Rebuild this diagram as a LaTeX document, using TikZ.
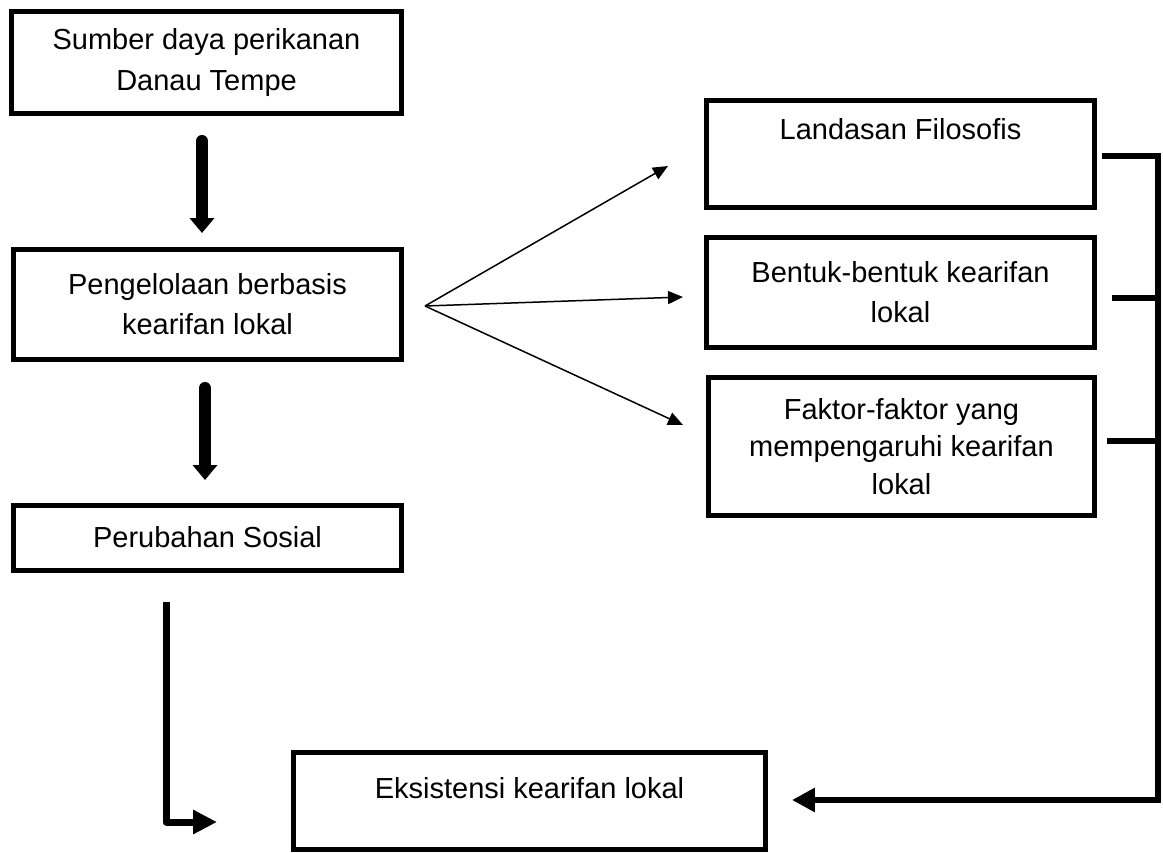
\documentclass[tikz,border=0pt]{standalone}
\usepackage{fontspec}
\setmainfont{Liberation Sans}
\usetikzlibrary{arrows.meta}
\begin{document}
\begin{tikzpicture}[x=0.02cm,y=-0.02cm,
    kotak/.style={draw,line width=0.1cm,align=center,inner sep=0pt,font=\fontsize{16.5}{22.8}\selectfont},
    panahbesar/.style={line width=0.24cm,line cap=round,-{Triangle[width=0.48cm,length=0.3cm]}},
    panahtipis/.style={line width=0.03cm,-{Triangle[width=0.26cm,length=0.3cm]}},
    garis/.style={line width=0.13cm}]
    \useasboundingbox (0,0) rectangle (1163,852);
    % kolom kiri
    \node[kotak,minimum width=7.82cm,minimum height=2.06cm] (sumber) at (206.5,62.5) {Sumber daya perikanan\\Danau Tempe};
    \node[kotak,minimum width=7.78cm,minimum height=2.22cm] (kelola) at (207.5,304.5) {Pengelolaan berbasis\\kearifan lokal};
    \node[kotak,minimum width=7.78cm,minimum height=1.3cm] (perubahan) at (207.5,537.5) {Perubahan Sosial};
    % kolom kanan
    \node[kotak,minimum width=7.78cm,minimum height=2.16cm,text height=0.42cm,text depth=1.02cm] (landasan) at (900.5,154) {Landasan Filosofis};
    \node[kotak,minimum width=7.78cm,minimum height=2.22cm] (bentuk) at (900.5,292.5) {Bentuk-bentuk kearifan\\lokal};
    \node[kotak,minimum width=7.74cm,minimum height=2.78cm,font=\fontsize{16.5}{21.3}\selectfont] (faktor) at (901.5,446.5) {Faktor-faktor yang\\mempengaruhi kearifan\\lokal};
    \node[kotak,minimum width=9.46cm,minimum height=1.94cm,text height=0.42cm,text depth=0.52cm] (eksistensi) at (529.5,800.5) {Eksistensi kearifan lokal};
    % panah
    \draw[panahbesar,shorten <=0.49cm,shorten >=0.27cm] ([xshift=-0.11cm]kelola.north |- sumber.south) -- ([xshift=-0.11cm]kelola.north);
    \draw[panahbesar,shorten <=0.51cm,shorten >=0.45cm] ([xshift=-0.05cm]kelola.south) -- ([xshift=-0.05cm]perubahan.north);
    \coordinate (turun) at (166,602);
    \coordinate (masuk) at (217,822);
    \draw[line width=0.14cm,line join=round,-{Triangle[width=0.46cm,length=0.48cm]}] (turun) |- (masuk);
    \coordinate (cabang) at (425,306);
    \coordinate (keA) at (668,166);
    \coordinate (keB) at (683,297);
    \coordinate (keC) at (683,425);
    \draw[panahtipis] (cabang) -- (keA);
    \draw[panahtipis] (cabang) -- (keB);
    \draw[panahtipis] (cabang) -- (keC);
    % kurung kanan
    \coordinate (sudut) at (1158,800);
    \draw[garis,-{Triangle[width=0.46cm,length=0.46cm]},shorten >=0.47cm] ([shift={(4.5,2)}]landasan.east) -| (sudut) -- (eksistensi.east |- sudut);
    \coordinate (b1) at ([shift={(14.5,5.5)}]bentuk.east);
    \coordinate (b2) at ([shift={(9.5,-5.5)}]faktor.east);
    \draw[garis] (b1) -- (b1 -| sudut);
    \draw[garis] (b2) -- (b2 -| sudut);
\end{tikzpicture}
\end{document}
